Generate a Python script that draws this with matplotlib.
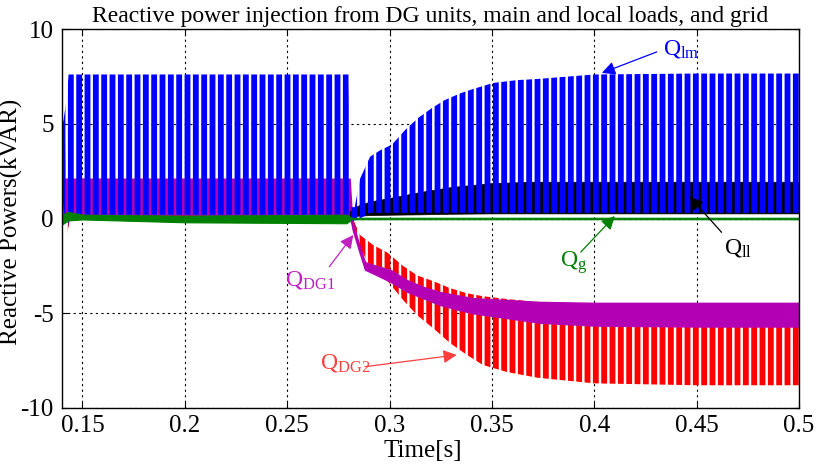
import matplotlib
matplotlib.use("Agg")
import matplotlib.pyplot as plt

plt.rcParams['font.family'] = ['Liberation Serif', 'DejaVu Serif']
plt.rcParams['mathtext.fontset'] = 'custom'
plt.rcParams['mathtext.rm'] = 'Liberation Serif'
plt.rcParams['mathtext.it'] = 'Liberation Serif:italic'
plt.rcParams['axes.unicode_minus'] = False
plt.rcParams['hatch.linewidth'] = 4.2

# envelopes (upper / lower) of each oscillating signal
t_lm = [0.1402, 0.1425, 0.1432, 0.1445, 0.2800, 0.2808, 0.2830, 0.2856, 0.2905, 0.2954,
        0.3012, 0.3076, 0.3139, 0.3207, 0.3270, 0.3344, 0.3407, 0.3505, 0.3620, 0.3720,
        0.4000, 0.4500, 0.5000]
lm_hi = [4.8, 6.5, 7.6, 7.6, 7.6, 0.6, 0.6, 2.1, 3.26, 3.6,
         3.9, 4.67, 5.3, 5.83, 6.25, 6.6, 6.83, 7.15, 7.3, 7.36,
         7.6, 7.65, 7.65]
lm_lo = [1.0, -0.9, -0.2, 0.2, 0.2, -0.1, -0.1, 0.0, 0.3, 0.3,
         0.3, 0.3, 0.3, 0.3, 0.3, 0.3, 0.3, 0.3, 0.3, 0.3,
         0.3, 0.3, 0.3]

t_dg1 = [0.1402, 0.2805, 0.2815, 0.2820, 0.2848, 0.2880, 0.2920, 0.3003, 0.3085,
         0.3163, 0.3246, 0.3330, 0.3407, 0.3570, 0.3734, 0.4000, 0.4500, 0.5000]
dg1_hi = [2.1, 2.1, 0.3, -0.2, -1.25, -2.3, -2.45, -2.7, -3.25,
          -3.6, -3.88, -4.05, -4.2, -4.3, -4.4, -4.45, -4.45, -4.45]
dg1_lo = [0.0, 0.0, -0.3, -0.6, -1.6, -2.7, -2.9, -3.33, -3.86,
          -4.2, -4.56, -4.8, -5.0, -5.25, -5.5, -5.65, -5.7, -5.7]

t_dg2 = [0.1402, 0.1412, 0.1425, 0.1440, 0.2805, 0.2820, 0.2856, 0.2920, 0.2990, 0.3066,
         0.3134, 0.3212, 0.3295, 0.3378, 0.3456, 0.3573, 0.3720, 0.4000, 0.4500, 0.5000]
dg2_hi = [5.2, 5.0, 1.0, 2.0, 2.0, 0.0, -0.87, -1.4, -1.8, -2.5,
          -3.0, -3.3, -3.67, -3.95, -4.1, -4.25, -4.4, -4.6, -4.7, -4.7]
dg2_lo = [4.0, 2.0, -0.8, 0.0, 0.0, -0.4, -1.56, -2.8, -3.3, -4.3,
          -5.1, -5.78, -6.57, -7.2, -7.73, -8.1, -8.4, -8.7, -8.8, -8.8]

t_ll = [0.2805, 0.2850, 0.2905, 0.3000, 0.3150, 0.3300, 0.3500, 0.3700, 0.4000, 0.5000]
ll_hi = [0.4, 0.7, 0.9, 1.08, 1.4, 1.66, 1.87, 1.94, 1.94, 1.94]
ll_lo = [0.1, 0.15, 0.18, 0.2, 0.22, 0.25, 0.27, 0.27, 0.27, 0.27]

t_g = [0.1402, 0.1430, 0.1500, 0.2000, 0.2790, 0.2815, 0.5000]
g_hi = [0.2, 0.35, 0.2, 0.15, 0.2, 0.04, 0.04]
g_lo = [-0.3, -0.1, -0.05, -0.2, -0.25, -0.04, -0.04]

xticks = [0.15, 0.2, 0.25, 0.3, 0.35, 0.4, 0.45, 0.5]
xtick_labels = ['0.15', '0.2', '0.25', '0.3', '0.35', '0.4', '0.45', '0.5']
yticks = [-10, -5, 0, 5, 10]

BLUE = '#0000ff'
MAG = '#b400b4'
RED = '#ff0000'
GREEN = '#008000'

fig = plt.figure(figsize=(8.17, 4.67), dpi=100)
ax = fig.add_axes([62 / 817, 1 - 408 / 467, 737 / 817, 379 / 467])

ax.fill_between(t_dg2, dg2_lo, dg2_hi, facecolor='none', edgecolor=RED, hatch='||', linewidth=0, zorder=2)
ax.fill_between(t_dg1, dg1_lo, dg1_hi, facecolor=MAG, edgecolor=MAG, linewidth=1, zorder=3)
ax.fill_between(t_ll, ll_lo, ll_hi, facecolor='black', edgecolor='black', linewidth=0.5, zorder=3)
ax.fill_between(t_lm, lm_lo, lm_hi, facecolor='none', edgecolor=BLUE, hatch='||', linewidth=0, zorder=4)
ax.fill_between(t_g, g_lo, g_hi, facecolor=GREEN, edgecolor=GREEN, linewidth=0.8, zorder=5)

ax.set_xlim(0.14, 0.5)
ax.set_ylim(-10, 10)
ax.set_xticks(xticks)
ax.set_xticklabels(xtick_labels)
ax.set_yticks(yticks)
ax.tick_params(labelsize=18, direction='in', length=4, top=True, right=True)
ax.tick_params(axis='x', pad=5)
ax.tick_params(axis='y', pad=6)
ax.grid(True, color='black', linestyle=(0, (2, 3)), linewidth=0.8)
ax.set_axisbelow(True)
for s in ax.spines.values():
    s.set_linewidth(1.0)
    s.set_zorder(10)

ax.set_title('Reactive power injection from DG units, main and local loads, and grid', fontsize=17, pad=5)
ax.set_xlabel('Time[s]', fontsize=18, labelpad=0)
ax.set_ylabel('Reactive Powers(kVAR)', fontsize=18)
ax.yaxis.set_label_coords(-0.053, 0.49)
ax.xaxis.set_label_coords(0.49, -0.085)

# labels and arrows
arrow = dict(arrowstyle='-|>', mutation_scale=20, lw=0.9, shrinkA=0, shrinkB=0)
ax.text(0.4334, 8.65, r'$\mathrm{Q}_{\mathrm{lm}}$', color=BLUE, fontsize=17, zorder=12)
ax.annotate('', xy=(0.4037, 7.68), xytext=(0.4305, 8.79), arrowprops=dict(arrow, color=BLUE), zorder=12)

ax.text(0.4632, -1.85, r'$\mathrm{Q}_{\mathrm{ll}}$', color='black', fontsize=17, zorder=12)
ax.annotate('', xy=(0.4466, 1.15), xytext=(0.4622, -0.73), arrowprops=dict(arrow, color='black'), zorder=12)

ax.text(0.3832, -2.53, r'$\mathrm{Q}_{\mathrm{g}}$', color=GREEN, fontsize=17, zorder=12)
ax.annotate('', xy=(0.41, 0.13), xytext=(0.3934, -1.77), arrowprops=dict(arrow, color=GREEN), zorder=12)

ax.text(0.249, -3.51, r'$\mathrm{Q}_{\mathrm{DG1}}$', color='#c020c0', fontsize=17, zorder=12)
ax.annotate('', xy=(0.2823, -0.87), xytext=(0.2706, -2.54), arrowprops=dict(arrow, color='#c020c0'), zorder=12)

ax.text(0.2661, -7.9, r'$\mathrm{Q}_{\mathrm{DG2}}$', color='#ff4040', fontsize=17, zorder=12)
ax.annotate('', xy=(0.3328, -7.2), xytext=(0.288, -7.82), arrowprops=dict(arrow, color='#ff4040'), zorder=12)

fig.savefig('out.png', dpi=100)
